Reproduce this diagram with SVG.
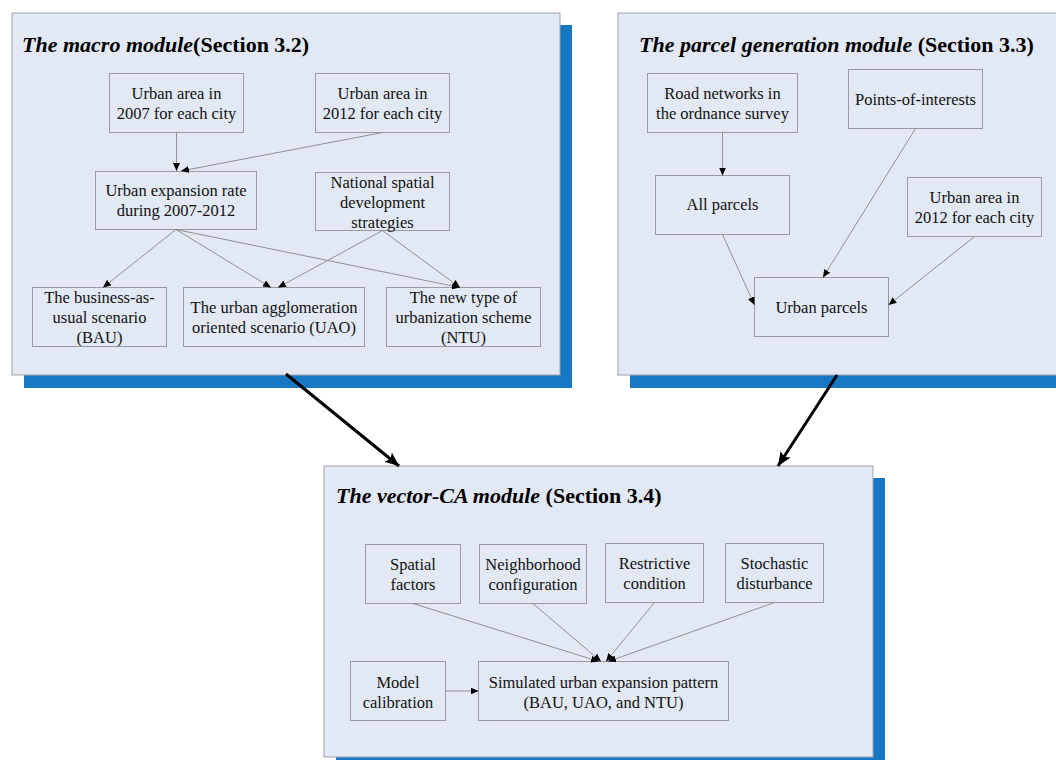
<svg xmlns="http://www.w3.org/2000/svg" width="1056" height="760" viewBox="0 0 1056 760" font-family="'Liberation Serif', 'Times New Roman', 'DejaVu Serif', serif">
<style>
.shadow{fill:#1677C4;}
.panel{fill:#E3E9F4;stroke:#A3A3A8;stroke-width:1;}
.box{fill:#E3E9F4;stroke:#9A9AA0;stroke-width:1;}
text{font-family:'Liberation Serif','Times New Roman','DejaVu Serif',serif;}
.t{font-size:16.5px;fill:#111;text-anchor:middle;}
.title{font-size:22px;font-weight:bold;fill:#000;}
.bi{font-style:italic;}
.thin{fill:none;stroke:#7A7A7A;stroke-width:0.8;marker-end:url(#ah);}
.big{fill:none;stroke:#000;stroke-width:3;marker-end:url(#bh);}
</style>
<defs>
<marker id="ah" markerUnits="userSpaceOnUse" markerWidth="8" markerHeight="7" refX="8" refY="3.5" orient="auto">
<path d="M0,0 L8,3.5 L0,7 z" fill="#000"/>
</marker>
<marker id="bh" markerUnits="userSpaceOnUse" markerWidth="15" markerHeight="12" refX="14" refY="6" orient="auto">
<path d="M0,0 L14,6 L0,12 L3,6 z" fill="#000"/>
</marker>
</defs>
<rect width="1056" height="760" fill="#fff"/>

<g id="macro-panel">
<rect class="shadow" x="24" y="25" width="548" height="363"/>
<rect class="panel" x="12" y="13" width="548" height="362"/>
<text class="title" x="22" y="52"><tspan class="bi">The macro module</tspan>(Section 3.2)</text>
</g>
<g id="parcel-panel">
<rect class="shadow" x="630" y="25" width="440" height="363"/>
<rect class="panel" x="618" y="13" width="450" height="362"/>
<text class="title" x="639" y="52"><tspan class="bi">The parcel generation module</tspan> (Section 3.3)</text>
</g>
<g id="ca-panel">
<rect class="shadow" x="336" y="478" width="549" height="300"/>
<rect class="panel" x="324" y="466" width="549" height="291"/>
<text class="title" x="336" y="503"><tspan class="bi">The vector-CA module</tspan> (Section 3.4)</text>
</g>

<g id="n-ua2007"><rect class="box" x="109.5" y="73.5" width="134" height="59"/><text class="t" x="176.5" y="99">Urban area in</text><text class="t" x="176.5" y="119">2007 for each city</text></g>
<g id="n-ua2012a"><rect class="box" x="315.5" y="73.5" width="134" height="59"/><text class="t" x="382.5" y="99">Urban area in</text><text class="t" x="382.5" y="119">2012 for each city</text></g>
<g id="n-rate"><rect class="box" x="95.5" y="171.5" width="161" height="58"/><text class="t" x="176" y="196">Urban expansion rate</text><text class="t" x="176" y="216">during 2007-2012</text></g>
<g id="n-national"><rect class="box" x="315.5" y="172.5" width="134" height="58"/><text class="t" x="382.5" y="188">National spatial</text><text class="t" x="382.5" y="208">development</text><text class="t" x="382.5" y="228">strategies</text></g>
<g id="n-bau"><rect class="box" x="32.5" y="287.5" width="134" height="59"/><text class="t" x="99.5" y="303">The business-as-</text><text class="t" x="99.5" y="323">usual scenario</text><text class="t" x="99.5" y="343">(BAU)</text></g>
<g id="n-uao"><rect class="box" x="183.5" y="287.5" width="181" height="59"/><text class="t" x="274" y="313">The urban agglomeration</text><text class="t" x="274" y="333">oriented scenario (UAO)</text></g>
<g id="n-ntu"><rect class="box" x="386.5" y="287.5" width="154" height="59"/><text class="t" x="463.5" y="303">The new type of</text><text class="t" x="463.5" y="323">urbanization scheme</text><text class="t" x="463.5" y="343">(NTU)</text></g>

<g id="n-road"><rect class="box" x="647.5" y="73.5" width="150" height="59"/><text class="t" x="722.5" y="99">Road networks in</text><text class="t" x="722.5" y="119">the ordnance survey</text></g>
<g id="n-poi"><rect class="box" x="848.5" y="69.5" width="134" height="59"/><text class="t" x="915.5" y="105">Points-of-interests</text></g>
<g id="n-all"><rect class="box" x="655.5" y="175.5" width="134" height="59"/><text class="t" x="722.5" y="210">All parcels</text></g>
<g id="n-ua2012b"><rect class="box" x="907.5" y="177.5" width="134" height="59"/><text class="t" x="974.5" y="203">Urban area in</text><text class="t" x="974.5" y="223">2012 for each city</text></g>
<g id="n-urbanparcels"><rect class="box" x="754.5" y="277.5" width="134" height="59"/><text class="t" x="821.5" y="313">Urban parcels</text></g>

<g id="n-spatial"><rect class="box" x="365.5" y="544.5" width="95" height="59"/><text class="t" x="413" y="570">Spatial</text><text class="t" x="413" y="590">factors</text></g>
<g id="n-neigh"><rect class="box" x="479.5" y="544.5" width="107" height="59"/><text class="t" x="533" y="570">Neighborhood</text><text class="t" x="533" y="590">configuration</text></g>
<g id="n-restrict"><rect class="box" x="605.5" y="543.5" width="98" height="59"/><text class="t" x="654.5" y="569">Restrictive</text><text class="t" x="654.5" y="589">condition</text></g>
<g id="n-stoch"><rect class="box" x="725.5" y="543.5" width="98" height="59"/><text class="t" x="774.5" y="569">Stochastic</text><text class="t" x="774.5" y="589">disturbance</text></g>
<g id="n-calib"><rect class="box" x="350.5" y="661.5" width="95" height="59"/><text class="t" x="398" y="688">Model</text><text class="t" x="398" y="708">calibration</text></g>
<g id="n-sim"><rect class="box" x="478.5" y="661.5" width="250" height="59"/><text class="t" x="603.5" y="688">Simulated urban expansion pattern</text><text class="t" x="603.5" y="708">(BAU, UAO, and NTU)</text></g>

<g id="connectors">
<line class="thin" x1="176.5" y1="132.5" x2="176.5" y2="171"/>
<line class="thin" x1="382.5" y1="132.5" x2="181" y2="171"/>
<line class="thin" x1="176" y1="229.5" x2="103" y2="287.5"/>
<line class="thin" x1="176" y1="229.5" x2="271" y2="287.5"/>
<line class="thin" x1="176" y1="229.5" x2="460" y2="287.5"/>
<line class="thin" x1="382.5" y1="230.5" x2="278" y2="287.5"/>
<line class="thin" x1="382.5" y1="230.5" x2="460" y2="287.5"/>

<line class="thin" x1="722.5" y1="132.5" x2="722.5" y2="175.5"/>
<line class="thin" x1="915.5" y1="128.5" x2="823" y2="277.5"/>
<line class="thin" x1="722.5" y1="234.5" x2="754.5" y2="305"/>
<line class="thin" x1="974.5" y1="236.5" x2="888.5" y2="305"/>

<line class="thin" x1="413" y1="603.5" x2="599" y2="661.5"/>
<line class="thin" x1="533" y1="603.5" x2="601" y2="661.5"/>
<line class="thin" x1="654.5" y1="602.5" x2="606" y2="661.5"/>
<line class="thin" x1="774.5" y1="602.5" x2="608" y2="661.5"/>
<line class="thin" x1="445.5" y1="691" x2="478.5" y2="691"/>

<line class="big" x1="286" y1="374" x2="399" y2="466"/>
<line class="big" x1="837" y1="375" x2="778" y2="466"/>
</g>
</svg>
